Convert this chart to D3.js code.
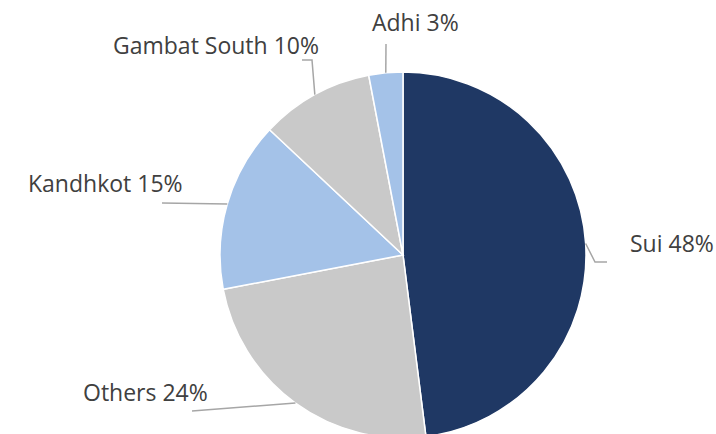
<!DOCTYPE html>
<html>
<head>
<meta charset="utf-8">
<script src="https://d3js.org/d3.v7.min.js"></script>
<style>
  body { margin: 0; background: #fff; }
  svg { display: block; }
  .lbl { font-family: "Open Sans", sans-serif; font-size: 23px; fill: #404040; }
</style>
</head>
<body>
<script>
// chart data
var names = ["Sui", "Others", "Kandhkot", "Gambat South", "Adhi"];
var shares = [48, 24, 15, 10, 3];
var colors = ["#1f3864", "#c9c9c9", "#a4c2e8", "#c9c9c9", "#a4c2e8"];

// label layout: text anchor point and leader path bend points
var labelXY = [[630, 252], [83, 401], [28, 192], [113, 54], [372, 31]];
var leaderPts = [
  [[595, 262], [607, 262]],
  [[192, 411]],
  [[162, 203]],
  [[312, 60], [302, 60]],
  [[386, 44]]
];

var W = 716, H = 434, cx = 403, cy = 255, R = 183;

var svg = d3.select("body").append("svg")
    .attr("width", W).attr("height", H);

var pie = d3.pie().sort(null).value(function(d){ return d; });
var arcs = pie(shares);
var arc = d3.arc().innerRadius(0).outerRadius(R);

var g = svg.append("g").attr("transform", "translate(" + cx + "," + cy + ")");

g.selectAll("path")
    .data(arcs)
    .enter().append("path")
    .attr("d", arc)
    .attr("fill", function(d,i){ return colors[i]; })
    .attr("stroke", "#fff")
    .attr("stroke-width", 1.5);

// leader lines from slice mid point on rim
var line = d3.line();
svg.selectAll("path.leader")
    .data(arcs)
    .enter().append("path")
    .attr("class", "leader")
    .attr("d", function(d,i){
        var a = (d.startAngle + d.endAngle) / 2;
        var p0 = [cx + R * Math.sin(a), cy - R * Math.cos(a)];
        return line([p0].concat(leaderPts[i]));
    })
    .attr("fill", "none")
    .attr("stroke", "#a6a6a6")
    .attr("stroke-width", 1.5);

svg.selectAll("text.lbl")
    .data(arcs)
    .enter().append("text")
    .attr("class", "lbl")
    .attr("x", function(d,i){ return labelXY[i][0]; })
    .attr("y", function(d,i){ return labelXY[i][1]; })
    .text(function(d,i){ return names[i] + " " + shares[i] + "%"; });
</script>
</body>
</html>
